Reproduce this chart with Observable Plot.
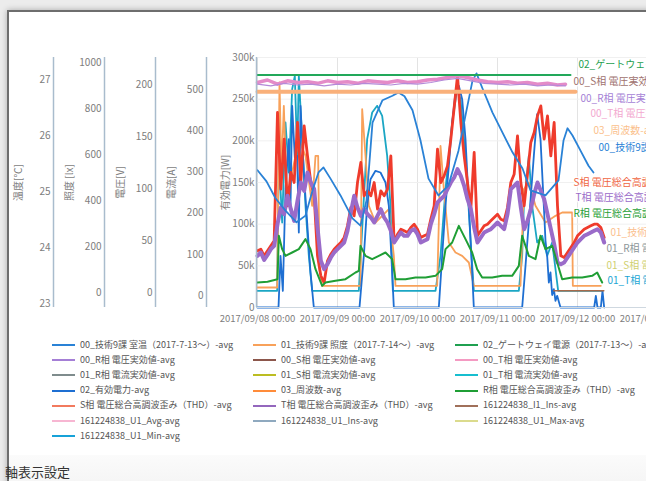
<!DOCTYPE html>
<html><head><meta charset="utf-8">
<script src="https://cdn.jsdelivr.net/npm/d3@7"></script>
<script src="https://cdn.jsdelivr.net/npm/@observablehq/plot@0.6"></script>
<style>
html,body{margin:0;padding:0;width:646px;height:481px;overflow:hidden;background:#ececec;font-family:"Noto Sans CJK JP","Noto Sans",sans-serif;}
#frame{position:absolute;left:7px;top:10px;width:720px;height:520px;background:#fff;border-top:2px solid #6e6e6e;border-left:2px solid #6e6e6e;box-shadow:0 0 6px rgba(0,0,0,0.28);}
#bottom{position:absolute;left:9px;top:455px;width:720px;height:40px;background:linear-gradient(#fbfbfb,#f3f3f3);}
#axisset{position:absolute;left:5px;top:464px;font-size:13px;color:#333;line-height:16px;}
.sw{position:absolute;width:23px;height:2px;}
.lt{position:absolute;font-size:9px;color:#555;white-space:nowrap;line-height:12px;}
svg{max-width:none !important;}
</style>
</head><body>
<div id="frame"></div>
<div id="bottom"></div>
<div id="axisset">軸表示設定</div>
<script>
const FONT = '"Noto Sans CJK JP","Noto Sans",sans-serif';

// ---------- tick values ----------
const tempTicks = [23, 24, 25, 26, 27];
const luxTicks = [0, 200, 400, 600, 800, 1000];
const voltTicks = [0, 50, 100, 150, 200];
const ampTicks = [0, 100, 200, 300, 400, 500];
const powerTicks = [0, 50000, 100000, 150000, 200000, 250000, 300000];
const dayTickHours = [0, 24, 48, 72, 96, 120];

// ---------- series: [hours since 2017/09/08 00:00, value] ----------
// 00_技術9課 室温 (°C)
const roomTemp = [[0,25.38],[2.7,25.18],[5.4,24.88],[8.4,24.66],[11.7,24.45],[14.4,24.57],[16.5,25.02],[18.3,25.34],[19.8,25.43],[21.9,25.23],[24.9,24.93],[28.5,24.52],[30.9,24.39],[32.7,24.84],[34.5,26.23],[37.5,26.63],[40.5,26.71],[42.3,26.77],[44.1,26.70],[46.5,26.45],[48.9,25.91],[51.3,25.23],[54.3,24.93],[57.3,25.11],[60.3,25.73],[62.7,26.45],[64.5,26.98],[65.7,27.11],[67.5,26.84],[70.5,26.41],[73.5,26.05],[76.5,25.70],[79.5,25.41],[81.9,25.02],[86.4,24.93],[90.3,25.20],[91.8,25.91],[93,26.13],[94.5,26.00],[96.9,25.73],[99.3,25.46],[100.8,25.34]];
// 02_有効電力 (kW on main axis)
const activePower = [[0,0],[6.3,0],[6.9,62],[7.6,20],[8.4,142],[9.4,202],[9.9,120],[10.4,242],[11.2,180],[11.9,182],[12.4,90],[12.9,242],[13.9,162],[14.9,102],[15.9,42],[16.9,0],[30.6,0],[31.9,62],[32.9,122],[33.9,154],[35.4,164],[36.9,162],[38.4,150],[39.4,122],[40.4,42],[40.9,0],[54.4,0],[55.4,62],[56.4,122],[57.4,170],[58.4,222],[59.4,258],[60.4,266],[61.4,250],[62.4,202],[63.4,122],[64.4,42],[64.9,0],[79.4,0],[80.4,50],[81.4,102],[82.9,182],[83.9,232],[84.9,202],[85.9,122],[86.4,80],[86.9,62],[87.4,30],[87.9,42],[88.4,15],[88.9,22],[89.4,8],[89.9,14],[90.9,0],[101,0],[101.5,14],[102,0],[103,0],[103.5,20],[104,0]];
// 01_T相 電流実効値 (teal)
const tPhaseCurrent = [[0,20],[5.9,20],[6.4,182],[7.4,102],[8.4,222],[9.4,162],[10.4,262],[11.2,278],[11.9,182],[12.4,278],[13.4,202],[14.4,122],[15.4,62],[16.4,20],[30.4,20],[31.4,94],[32.9,202],[34.4,234],[35.9,242],[37.4,230],[38.9,182],[39.9,122],[40.6,20],[53.4,20],[54.9,62],[56.4,142],[58.4,222],[59.9,262],[60.9,250],[62.4,182],[63.9,82],[64.9,20],[78.4,20],[79.4,62],[79.9,122],[81.4,182],[82.4,122],[83.9,78],[85.4,86],[86.9,62],[88.4,78],[89.4,46],[90.2,20],[103.5,20]];
// 01_技術9課 照度 (orange)
const illuminance = [[0,24],[5.9,24],[6.6,270],[7.2,162],[7.9,242],[8.9,122],[10.4,162],[12.4,202],[14.4,182],[16.4,122],[17.4,182],[18.2,182],[18.6,46],[19.4,26],[30.9,26],[31.4,238],[32.4,182],[33.4,122],[35.4,102],[37.4,110],[39.4,118],[40.9,62],[41.4,26],[53.9,26],[54.4,102],[54.9,194],[55.9,142],[57.4,78],[59.4,66],[61.4,62],[63.4,54],[64.9,26],[78.9,26],[79.9,142],[81.4,150],[83.4,122],[86.4,102],[89.4,110],[91.4,114],[94.4,114],[94.6,26],[103,26]];
// T相 THD (purple), hourly from 0 h
const tPhaseTHD = [62,66,57,63,70,74,100,120,112,134,118,104,128,150,140,162,150,142,96,56,46,52,60,66,70,74,78,92,114,134,120,110,118,112,108,102,110,118,108,102,92,78,84,90,86,86,92,94,88,78,80,82,100,112,126,130,134,142,150,156,166,158,146,130,118,96,78,84,90,92,94,98,102,98,94,112,142,146,150,120,94,104,118,136,150,140,130,112,94,76,54,52,54,60,66,72,78,82,86,88,90,92,94,90,78];
// S相 THD (red), hourly from 0 h
const sPhaseTHD = [68,70,62,68,74,80,234,142,202,122,162,150,222,150,218,182,150,134,62,38,30,56,64,70,74,78,84,98,120,110,150,174,134,140,134,150,118,140,134,142,182,78,88,94,92,90,96,100,94,84,86,88,106,122,190,150,158,170,202,240,278,222,182,150,118,186,86,92,98,100,104,108,112,106,104,120,150,160,206,150,122,160,198,210,230,242,202,230,182,222,122,62,60,66,72,78,86,90,94,96,98,100,100,96,84];
// R相 THD (green)
const rPhaseTHD = [[0,30],[3,31],[6,34],[6.4,86],[7.4,70],[8.4,62],[10.4,66],[12.4,70],[14.4,82],[15.9,70],[17.4,46],[19.4,26],[20.4,30],[23.4,32],[26.4,34],[29.4,42],[30.4,44],[30.9,74],[32.4,62],[34.4,58],[36.4,62],[38.4,66],[40.4,58],[41.4,34],[44.4,34],[47.4,36],[50.4,36],[53.4,38],[55.4,46],[56.4,70],[58.4,78],[60.4,98],[62.4,82],[64.4,66],[65.9,46],[67.4,36],[70.4,36],[73.4,38],[76.4,38],[78.4,50],[79.4,86],[81.4,62],[83.4,58],[84.9,86],[86.4,70],[88.4,74],[89.9,54],[91.4,34],[94.4,36],[97.4,36],[100.4,38],[101.9,42],[103.4,30]];
// top lines
const gatewayPower = [[0,279],[93.9,279]];
const frequency = [[0,259],[95.4,259]];
const tPhaseVolt = [[0,270],[3,273],[6,268],[9,272],[12,270],[15,271],[18,269],[21,272],[24,270],[27,271],[30,269],[33,272],[36,271],[39,270],[42,272],[45,270],[48,271],[51,273],[54,274],[57,276],[60,278],[63,276],[66,273],[69,271],[72,270],[75,271],[78,269],[81,270],[84,268],[87,269],[90,267],[92.4,268]];
const rPhaseVolt = [[0,268],[4,266],[8,269],[12,267],[16,268],[20,266],[24,268],[28,267],[32,269],[36,268],[40,267],[44,269],[48,268],[52,270],[56,273],[60,275],[64,272],[68,269],[72,268],[76,267],[80,268],[84,266],[88,267],[92.4,266]];
const i1Ins = [[88.9,20],[103.9,20]];

// end-of-line labels
const endLabelText = ["02_ゲートウェイ電源（2017-7-13～）-avg","00_S相 電圧実効値-avg","00_R相 電圧実効値-avg","00_T相 電圧実効値-avg","03_周波数-avg","00_技術9課 室温（2017-7-13～）-avg","S相 電圧総合高調波歪み（THD）-avg","T相 電圧総合高調波歪み（THD）-avg","R相 電圧総合高調波歪み（THD）-avg","01_技術9課 照度（2017-7-14～）-avg","01_R相 電流実効値-avg","01_S相 電流実効値-avg","01_T相 電流実効値-avg"];
const endLabelHour = [96.3,94.8,96.9,99.9,100.8,102.3,94.8,95.4,94.8,105.9,104.7,104.7,105];
const endLabelValue = [291.6,271,251,233,212,192,150,132,112,90,71,50,32];
const endLabelColor = ["#1fa050","#a0726e","#a57fd6","#f3a9cf","#fbbf8c","#2a82d6","#f0653f","#9a6bc9","#1f9e35","#fbc08e","#8c9699","#d0d070","#1ba6d4"];

// legend
const legendNames = ["00_技術9課 室温（2017-7-13～）-avg","01_技術9課 照度（2017-7-14～）-avg","02_ゲートウェイ電源（2017-7-13～）-avg",
 "00_R相 電圧実効値-avg","00_S相 電圧実効値-avg","00_T相 電圧実効値-avg",
 "01_R相 電流実効値-avg","01_S相 電流実効値-avg","01_T相 電流実効値-avg",
 "02_有効電力-avg","03_周波数-avg","R相 電圧総合高調波歪み（THD）-avg",
 "S相 電圧総合高調波歪み（THD）-avg","T相 電圧総合高調波歪み（THD）-avg","161224838_I1_Ins-avg",
 "161224838_U1_Avg-avg","161224838_U1_Ins-avg","161224838_U1_Max-avg",
 "161224838_U1_Min-avg"];
const legendColors = ["#2a82d6","#f8a15a","#1fa050",
 "#a57fd6","#8c564b","#f49ac2",
 "#7f8c8d","#bcbd22","#17becf",
 "#1e6fd2","#ff8c3a","#1f9e35",
 "#f27a5e","#9467bd","#a0705a",
 "#f7b6d2","#8fa9bf","#dbdb8d",
 "#17a2d8"];

// ---------- helpers ----------
const T0 = Date.UTC(2017, 8, 8);
const toDate = h => new Date(T0 + h * 3600000);
const tempToW = d3.scaleLinear().domain([22.929, 27.393]).range([0, 300000]);
const kW = v => v * 1000;
const AXIS_LINE = "#a9bccd";
const TICK_COLOR = "#7d7d7d";
const fmtK = d => d === 0 ? "0" : (d / 1000) + "k";

const pairsLine = (arr, stroke, sw, yf = d => kW(d[1])) =>
  Plot.line(arr, {x: d => toDate(d[0]), y: yf, stroke, strokeWidth: sw, curve: "linear"});
const hourlyLine = (arr, stroke, sw) =>
  Plot.line(arr.map((v, i) => [i, v]), {x: d => toDate(d[0]), y: d => kW(d[1]), stroke, strokeWidth: sw});

const labelRows = endLabelText.map((t, i) => ({t, h: endLabelHour[i], v: endLabelValue[i], c: endLabelColor[i]}));

const main = Plot.plot({
  width: 700, height: 330,
  marginLeft: 257, marginRight: 43, marginTop: 57, marginBottom: 23,
  x: {type: "utc", domain: [toDate(0), toDate(120)], axis: null},
  y: {domain: [0, 300000], axis: null},
  color: {type: "identity"},
  style: {fontFamily: FONT, fontSize: "10px", background: "transparent", overflow: "visible"},
  marks: [
    Plot.gridX(dayTickHours.map(toDate), {stroke: "#e3e3e3", strokeOpacity: 1}),
    Plot.gridY(powerTicks, {stroke: "#f0f0f0", strokeOpacity: 1}),
    pairsLine(tPhaseCurrent, "#1ba6c4", 1.8),
    pairsLine(illuminance, "#f8a15a", 1.8),
    pairsLine(activePower, "#1e6fd2", 1.8),
    hourlyLine(sPhaseTHD, "#ef3b2c", 2.8),
    hourlyLine(tPhaseTHD, "#9a6bc9", 4),
    pairsLine(rPhaseTHD, "#1f9e35", 2),
    pairsLine(i1Ins, "#a66a4a", 1.5),
    pairsLine(roomTemp, "#2a82d6", 1.8, d => tempToW(d[1])),
    pairsLine(frequency, "#f9b07a", 4),
    pairsLine(tPhaseVolt, "#e48bc8", 3.5),
    pairsLine(rPhaseVolt, "#b48ad8", 1.2),
    pairsLine(gatewayPower, "#22a85a", 2),
    Plot.ruleY([0], {stroke: "#cfd8e0"}),
    Plot.ruleX([toDate(-0.3)], {stroke: AXIS_LINE, strokeWidth: 1.5}),
    Plot.axisY(powerTicks, {anchor: "left", tickSize: 0, tickPadding: 3, tickFormat: fmtK,
      label: "有効電力[W]", labelAnchor: "center", labelOffset: 36, labelArrow: "none", color: TICK_COLOR}),
    Plot.axisX(dayTickHours.map(toDate), {anchor: "bottom", tickSize: 0, tickPadding: 8, fontSize: 9.5,
      tickFormat: d3.utcFormat("%Y/%m/%d %H:%M"), label: null, color: TICK_COLOR}),
    Plot.text(labelRows, {x: d => toDate(d.h), y: d => kW(d.v), text: "t", fill: "c",
      textAnchor: "start", fontSize: 10, stroke: "white", strokeWidth: 3, strokeOpacity: 0.85})
  ]
});
main.style.position = "absolute"; main.style.left = "0px"; main.style.top = "0px";
main.style.maxWidth = "none";
document.body.appendChild(main);

function sideAxis(domain, ticks, label, lineX) {
  const p = Plot.plot({
    width: 56, height: 310, marginLeft: 50, marginRight: 6, marginTop: 57, marginBottom: 3,
    x: {domain: [0, 1], axis: null},
    y: {domain, axis: null},
    style: {fontFamily: FONT, fontSize: "10px", background: "transparent", overflow: "visible"},
    marks: [
      Plot.ruleX([0], {stroke: AXIS_LINE, strokeWidth: 1.5}),
      Plot.axisY(ticks, {anchor: "left", tickSize: 0, tickPadding: 3, tickFormat: d => String(d), label, labelAnchor: "center",
        labelOffset: 39, labelArrow: "none", color: TICK_COLOR})
    ]
  });
  p.style.position = "absolute"; p.style.left = (lineX - 50) + "px"; p.style.top = "0px";
  p.style.maxWidth = "none";
  document.body.appendChild(p);
}
sideAxis([22.929, 27.393], tempTicks, "温度[℃]", 53);
sideAxis([-65.2, 1021.7], luxTicks, "照度 [lx]", 104);
sideAxis([-14.4, 226], voltTicks, "電圧[V]", 155);
sideAxis([-29, 577.7], ampTicks, "電流[A]", 206);

// legend
const colX = [52, 253, 455];
legendNames.forEach((name, i) => {
  const r = Math.floor(i / 3), c = i % 3;
  const y = 345 + r * 15.2;
  const sw = document.createElement("div");
  sw.className = "sw"; sw.style.left = colX[c] + "px"; sw.style.top = (y - 1) + "px";
  sw.style.background = legendColors[i];
  document.body.appendChild(sw);
  const t = document.createElement("div");
  t.className = "lt"; t.textContent = name;
  t.style.left = (colX[c] + 28) + "px"; t.style.top = (y - 6.5) + "px";
  document.body.appendChild(t);
});
</script>
</body></html>
